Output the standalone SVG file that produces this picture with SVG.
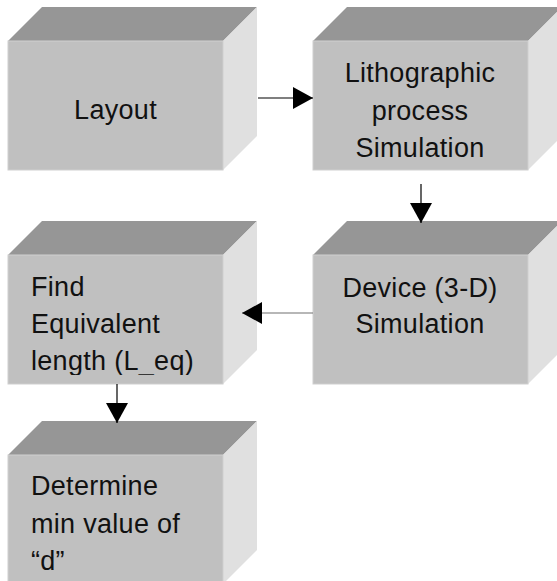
<svg xmlns="http://www.w3.org/2000/svg" xmlns:xlink="http://www.w3.org/1999/xlink" width="557" height="581" viewBox="0 0 557 581">
  <style>
    .top { fill: #969696; }
    .front { fill: #c0c0c0; stroke: #cfcfcf; stroke-width: 1; }
    .side { fill: #e0e0e0; }
    .label { font-family: "Liberation Sans", Arial, sans-serif; font-size: 27px; letter-spacing: 0.3px; fill: #111; }
    .mid { text-anchor: middle; }
    .wire { fill: none; stroke: #000; stroke-width: 1.2; }
  </style>
  <defs>
    <!-- 3-D block: front face 215x129, depth 34 up and to the right -->
    <g id="block">
      <polygon class="top" points="0,0 34,-34 249,-34 215,0"/>
      <polygon class="side" points="215,0 249,-34 249,95 215,129"/>
      <rect class="front" x="0" y="0" width="215" height="129"/>
    </g>
    <marker id="head" markerUnits="userSpaceOnUse" markerWidth="22" markerHeight="22" refX="20" refY="11" orient="auto">
      <polygon points="0,0 20,11 0,22" fill="#000"/>
    </marker>
    <clipPath id="clipFind">
      <rect x="8" y="255" width="215" height="120"/>
    </clipPath>
  </defs>

  <g id="layout">
    <use xlink:href="#block" transform="translate(8,41)"/>
    <text class="label mid" x="115.5" y="119">Layout</text>
  </g>

  <g id="litho">
    <use xlink:href="#block" transform="translate(313,41)"/>
    <text class="label mid" x="420" y="82">Lithographic</text>
    <text class="label mid" x="420" y="119.5">process</text>
    <text class="label mid" x="420" y="157">Simulation</text>
  </g>

  <g id="device">
    <use xlink:href="#block" transform="translate(313,255)"/>
    <text class="label mid" x="420" y="296.5">Device (3-D)</text>
    <text class="label mid" x="420" y="333">Simulation</text>
  </g>

  <g id="find">
    <use xlink:href="#block" transform="translate(8,255)"/>
    <g clip-path="url(#clipFind)">
      <text class="label" x="31" y="296">Find</text>
      <text class="label" x="31" y="333">Equivalent</text>
      <text class="label" x="31" y="370">length (L_eq)</text>
    </g>
  </g>

  <g id="determine">
    <use xlink:href="#block" transform="translate(8,455)"/>
    <text class="label" x="31" y="494.5">Determine</text>
    <text class="label" x="31" y="532.5">min value of</text>
    <text class="label" x="31" y="570">“d”</text>
  </g>

  <g id="connectors">
    <line class="wire" x1="258" y1="98" x2="313" y2="98" marker-end="url(#head)"/>
    <line class="wire" x1="421" y1="184" x2="421" y2="223" marker-end="url(#head)"/>
    <line class="wire" x1="313" y1="313" x2="242" y2="313" marker-end="url(#head)" style="stroke:#707070"/>
    <line class="wire" x1="117" y1="384" x2="117" y2="423" marker-end="url(#head)"/>
  </g>
</svg>
